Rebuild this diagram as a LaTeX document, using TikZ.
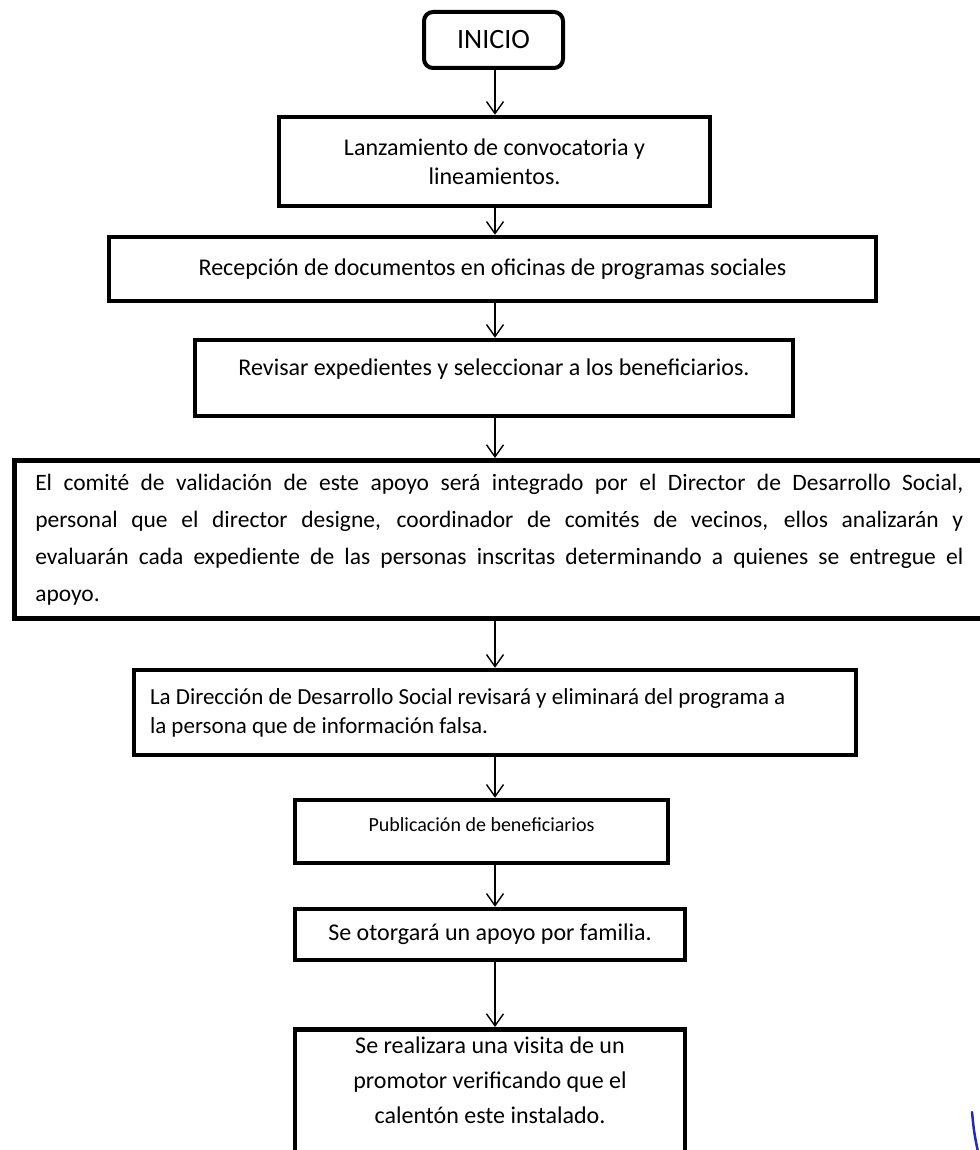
\documentclass[tikz,border=0pt]{standalone}
\usepackage{fontspec}
\setmainfont{Carlito}
\usetikzlibrary{arrows.meta}
\definecolor{signblue}{RGB}{35,45,170}
\begin{document}
\begin{tikzpicture}[x=1pt,y=-1pt]
        \tikzstyle{inicio}=[rectangle,rounded corners=9pt,draw=black,line width=4pt,minimum width=139pt,minimum height=56pt,font=\fontsize{28}{32}\selectfont]
        \tikzstyle{paso}=[rectangle,draw=black,line width=4.5pt,inner xsep=16pt,align=center,font=\fontsize{24}{29}\selectfont]
        \tikzstyle{flecha}=[draw,line width=1.4pt,-{Straight Barb[length=12pt,width=17pt]}]
       \useasboundingbox (0,0) rectangle (979,1150);
       \begin{scope}
         \node [inicio] (inicio) at (493.5,40) {INICIO};
         \node [paso,minimum width=431pt,minimum height=89pt] (b1) at (494.5,161.5) {Lanzamiento de convocatoria y\\lineamientos.};
         \node [paso,minimum width=767pt,minimum height=64pt] (b2) at (492.5,269) {Recepción de documentos en oficinas de programas sociales};
         \node [paso,minimum width=598pt,minimum height=76pt,text depth=22pt] (b3) at (494,378) {Revisar expedientes y seleccionar a los beneficiarios.};
         \node [paso,anchor=north west,minimum height=158pt,text width=928pt,inner xsep=21pt,align=justify,font=\fontsize{23.5}{37}\selectfont] (b4) at (12,458) {El comité de validación de este apoyo será integrado por el Director de Desarrollo Social,\linebreak personal que el director designe, coordinador de comités de vecinos, ellos analizarán y\linebreak evaluarán cada expediente de las personas inscritas determinando a quienes se entregue el\linebreak apoyo.};
         \node [paso,minimum width=722pt,minimum height=85pt,text width=690pt,align=flush left,font=\fontsize{23}{29}\selectfont] (b5) at (495,712.5) {La Dirección de Desarrollo Social revisará y eliminará del programa a\\la persona que de información falsa.};
         \node [paso,minimum width=373pt,minimum height=63pt,text depth=14pt,font=\fontsize{20}{24}\selectfont] (b6) at (481.5,831.5) {Publicación de beneficiarios};
         \node [paso,minimum width=390pt,minimum height=51pt] (b7) at (490,934.5) {Se otorgará un apoyo por familia.};
         \node [paso,anchor=north,minimum width=390pt,inner ysep=8pt,text depth=60pt,font=\fontsize{24}{35}\selectfont] (b8) at (490,1027) {Se realizara una visita de un\\promotor verificando que el\\calentón este instalado.};

         \coordinate (axis) at (495,0);
         \draw[flecha] (inicio.south -| axis) -- (b1.north -| axis);
         \draw[flecha] (b1.south -| axis) -- (b2.north -| axis);
         \draw[flecha] (b2.south -| axis) -- (b3.north -| axis);
         \draw[flecha] (b3.south -| axis) -- (b4.north -| axis);
         \draw[flecha] (b4.south -| axis) -- (b5.north -| axis);
         \draw[flecha] (b5.south -| axis) -- (b6.north -| axis);
         \draw[flecha] (b6.south -| axis) -- (b7.north -| axis);
         \draw[flecha] (b7.south -| axis) -- (b8.north -| axis);

         % trazo azul de la firma
         \draw[signblue,line width=2.5pt,line cap=round] (972,1112) .. controls (974,1132) .. (978,1152);
        \end{scope}
      \end{tikzpicture}
\end{document}
